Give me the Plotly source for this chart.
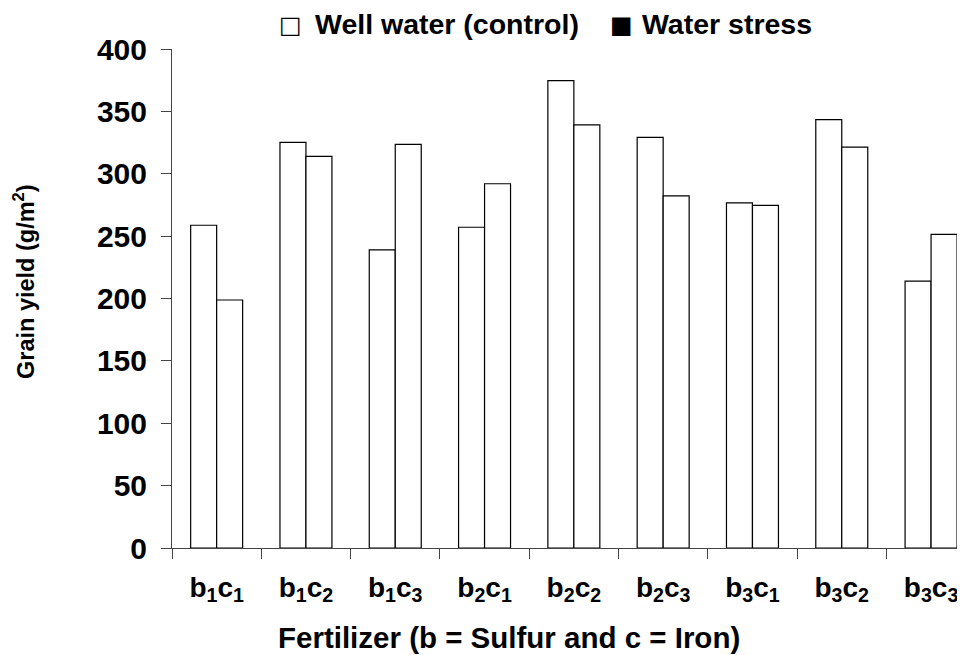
import plotly.graph_objects as go

categories = ["b1c1", "b1c2", "b1c3", "b2c1", "b2c2", "b2c3", "b3c1", "b3c2", "b3c3"]
tick_labels = ["b<sub>1</sub>c<sub>1</sub>", "b<sub>1</sub>c<sub>2</sub>", "b<sub>1</sub>c<sub>3</sub>",
               "b<sub>2</sub>c<sub>1</sub>", "b<sub>2</sub>c<sub>2</sub>", "b<sub>2</sub>c<sub>3</sub>",
               "b<sub>3</sub>c<sub>1</sub>", "b<sub>3</sub>c<sub>2</sub>", "b<sub>3</sub>c<sub>3</sub>"]
well_water = [258.7, 325.2, 238.9, 257.1, 374.6, 329.2, 276.6, 343.4, 214.0]
water_stress = [198.8, 314.0, 323.6, 292.0, 339.1, 282.2, 274.7, 321.4, 251.4]
y_ticks = [0, 50, 100, 150, 200, 250, 300, 350, 400]

FONT = "Liberation Sans, Arial, Helvetica, sans-serif"
SYM_FONT = "DejaVu Sans"
AXIS_COLOR = "#444444"

fig = go.Figure()
fig.add_trace(go.Bar(name="Well water (control)", x=categories, y=well_water,
                     marker=dict(color="white", line=dict(color="black", width=1.2)),
                     showlegend=False))
fig.add_trace(go.Bar(name="Water stress", x=categories, y=water_stress,
                     marker=dict(color="white", line=dict(color="black", width=1.2)),
                     showlegend=False))

fig.update_layout(
    width=957, height=647,
    margin=dict(l=164, r=0, t=41, b=107),
    paper_bgcolor="white", plot_bgcolor="white",
    barmode="group", bargap=0.418, bargroupgap=0,
    font=dict(family=FONT, color="black", weight="bold"),
    xaxis=dict(
        type="category", categoryorder="array", categoryarray=categories,
        tickmode="array", tickvals=categories, ticktext=tick_labels,
        range=[-0.5, 8.38],
        showline=True, linecolor=AXIS_COLOR, linewidth=1,
        ticks="outside", tickson="boundaries", ticklen=10, tickcolor=AXIS_COLOR, tickwidth=1,
        tickfont=dict(size=28, family=FONT, color="black", weight="bold"),
        ticklabelstandoff=14,
        showgrid=False, zeroline=False,
    ),
    yaxis=dict(
        range=[0, 400], tickmode="array", tickvals=y_ticks,
        showline=True, linecolor=AXIS_COLOR, linewidth=1,
        ticks="outside", ticklen=10, tickcolor=AXIS_COLOR, tickwidth=1,
        tickfont=dict(size=30, family=FONT, color="black", weight="bold"),
        ticklabelstandoff=8,
        showgrid=False, zeroline=False,
    ),
)

def px_x(px):
    return (px - 172) / 793

def px_y(py):
    return (548 - py) / 499

annos = [
    dict(text="□", x=px_x(290.5), y=px_y(25), font=dict(size=24, family=SYM_FONT, weight="normal"), xanchor="center"),
    dict(text="Well water (control)", x=px_x(313), y=px_y(23.5), font=dict(size=28.5), xanchor="left"),
    dict(text="■", x=px_x(621), y=px_y(25), font=dict(size=24, family=SYM_FONT, weight="normal"), xanchor="center"),
    dict(text="Water stress", x=px_x(640), y=px_y(23.5), font=dict(size=28.5), xanchor="left"),
    dict(text="Fertilizer (b = Sulfur and c = Iron)", x=px_x(509), y=px_y(637), font=dict(size=29.5), xanchor="center"),
    dict(text="Grain yield (g/m<sup>2</sup>)", x=px_x(23.5), y=px_y(281.5), font=dict(size=23.5), xanchor="center", textangle=-90),
]
for a in annos:
    f = dict(family=FONT, color="black", weight="bold")
    f.update(a["font"])
    a["font"] = f
    fig.add_annotation(xref="paper", yref="paper", showarrow=False, yanchor="middle", **a)

fig.write_html("out.html")
